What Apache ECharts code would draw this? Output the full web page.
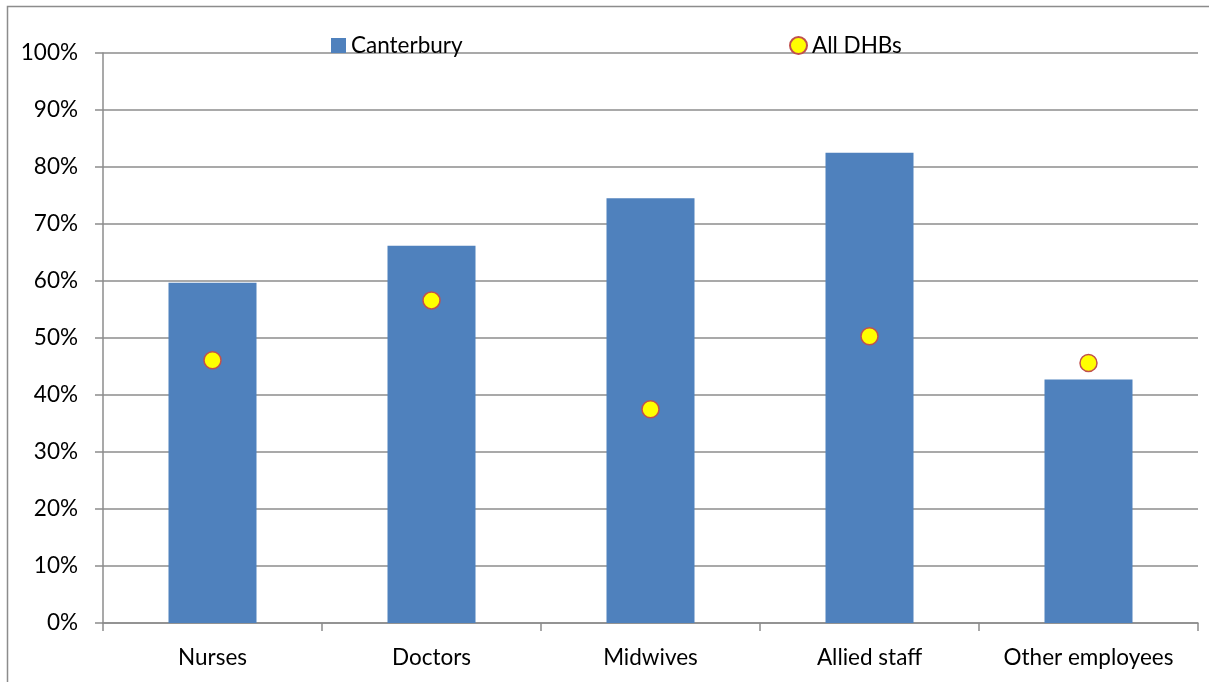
<!DOCTYPE html>
<html><head><meta charset="utf-8">
<script src="https://cdn.jsdelivr.net/npm/echarts@6/dist/echarts.min.js"></script>
<style>html,body{margin:0;padding:0;background:#fff}#c{width:1209px;height:682px}</style>
</head><body><div id="c"></div>
<script>
const categories = ['Nurses', 'Doctors', 'Midwives', 'Allied staff', 'Other employees'];
const canterbury = [59.7, 66.2, 74.5, 82.5, 42.7];
const allDHBs = [46.1, 56.6, 37.5, 50.3, 45.6];
const yTicks = [0, 10, 20, 30, 40, 50, 60, 70, 80, 90, 100];

const FONT = 'Lato, "Open Sans", sans-serif';
const FS = 22.5;
const chart = echarts.init(document.getElementById('c'));
chart.setOption({
  animation: false,
  textStyle: { fontFamily: FONT },
  graphic: [{ type: 'rect', shape: { x: 7.5, y: 6.5, width: 1400, height: 900 }, style: { fill: 'none', stroke: '#8c8c8c', lineWidth: 1.5 } }],
  grid: { left: 103, right: 11, top: 53, bottom: 59 },
  legend: [
    { data: [{ name: 'Canterbury', icon: 'rect' }], left: 326, top: 29, itemWidth: 15, itemHeight: 15, itemGap: 4,
      textStyle: { fontSize: FS, color: '#000', fontFamily: FONT } },
    { data: [{ name: 'All DHBs', icon: 'circle' }], left: 784, top: 29, itemWidth: 17, itemHeight: 17, itemGap: 4,
      textStyle: { fontSize: FS, color: '#000', fontFamily: FONT } }
  ],
  xAxis: {
    type: 'category', data: categories,
    axisLine: { lineStyle: { color: '#8c8c8c', width: 1.5 } },
    axisTick: { show: true, interval: 0, length: 8, lineStyle: { color: '#8c8c8c', width: 1.5 } },
    axisLabel: { interval: 0, hideOverlap: false, fontSize: FS, color: '#000', margin: 23, fontFamily: FONT }
  },
  yAxis: {
    type: 'value', min: 0, max: 100, interval: 10,
    axisLine: { show: true, lineStyle: { color: '#8c8c8c', width: 1.5 } },
    axisTick: { show: true, length: 8, lineStyle: { color: '#8c8c8c', width: 1.5 } },
    splitLine: { lineStyle: { color: '#8c8c8c', width: 1.5 } },
    axisLabel: { fontSize: FS, color: '#000', margin: 25, fontFamily: FONT,
      formatter: v => yTicks.includes(v) ? v + '%' : '' }
  },
  series: [
    { name: 'Canterbury', type: 'bar', data: canterbury, barWidth: 88,
      itemStyle: { color: '#4f81bd' } },
    { name: 'All DHBs', type: 'scatter', data: allDHBs, symbol: 'circle', symbolSize: 17,
      itemStyle: { color: '#ffff00', borderColor: '#c0504d', borderWidth: 1.5, opacity: 1 } }
  ]
});
</script></body></html>
